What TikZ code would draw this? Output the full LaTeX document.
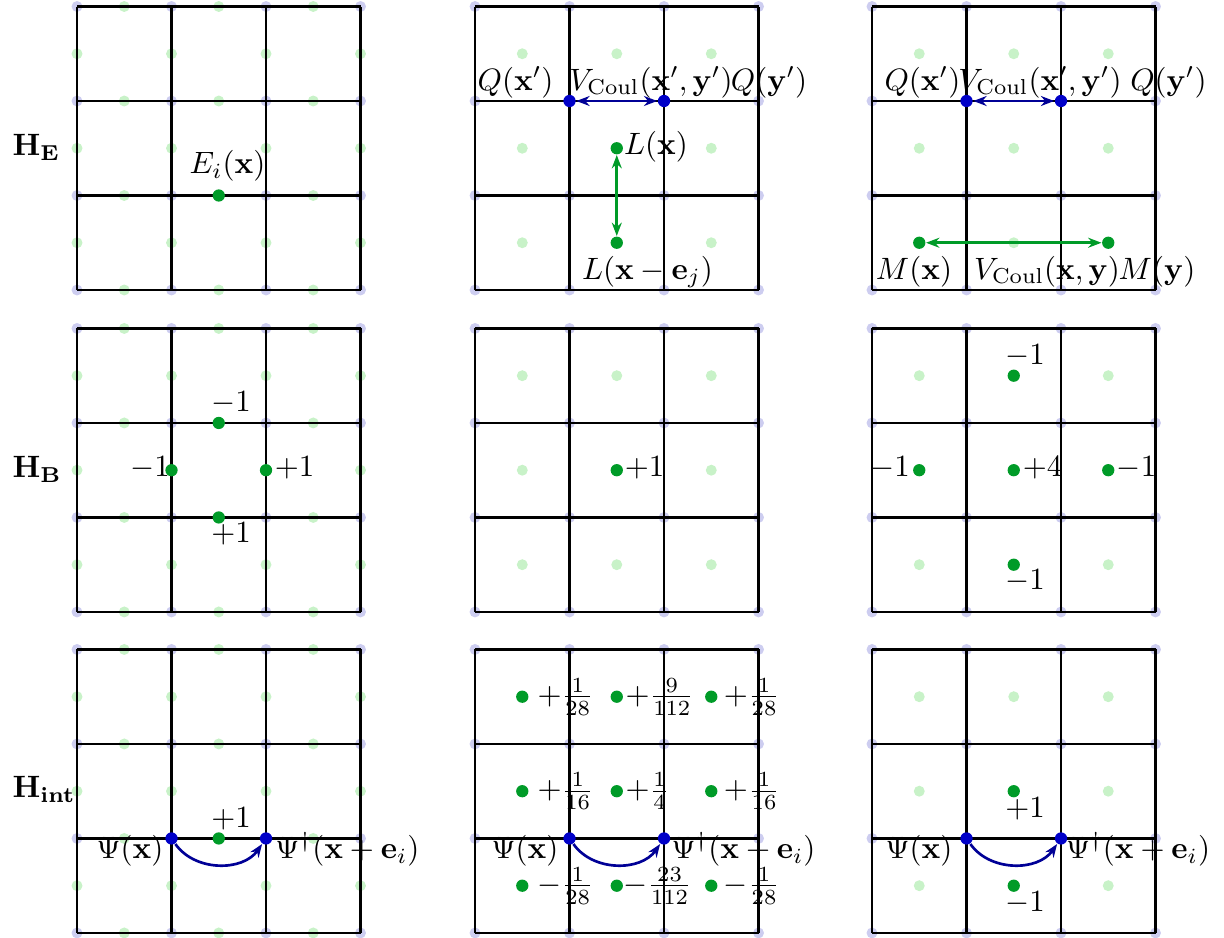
\documentclass[tikz,border=0pt]{standalone}
\usetikzlibrary{arrows.meta}
\definecolor{hlgreen}{RGB}{0,155,40}
\definecolor{hlblue}{RGB}{0,0,200}
\definecolor{arrblue}{RGB}{0,0,150}
\definecolor{fgreen}{RGB}{200,242,200}
\definecolor{fblue}{RGB}{205,205,240}
\tikzset{
  gridline/.style={line width=0.65pt, black},
  gdot/.style={circle, fill=hlgreen, inner sep=0pt, minimum size=1.3mm},
  bdot/.style={circle, fill=hlblue, inner sep=0pt, minimum size=1.3mm},
  lab/.style={inner sep=0pt, anchor=base, scale=0.93},
  fraclab/.style={inner sep=0pt, anchor=west, scale=0.93},
  rowlab/.style={inner sep=0pt, anchor=base west, scale=0.93},
  barrow/.style={arrblue, line width=0.8pt, {Stealth[length=4pt,width=3pt]}-{Stealth[length=4pt,width=3pt]}},
  garrow/.style={hlgreen, line width=0.8pt, {Stealth[length=4pt,width=3pt]}-{Stealth[length=4pt,width=3pt]}},
  carrow/.style={arrblue, line width=0.8pt, -{Stealth[length=4pt,width=3pt]}},
}
\newcommand{\vtxdots}{\foreach \i in {0,...,3}{\foreach \j in {0,...,3}{\fill[fblue] (\i,\j) circle (0.058);}}}
\newcommand{\linkdots}{\foreach \i in {0,1,2}{\foreach \j in {0,...,3}{\fill[fgreen] (\i+0.5,\j) circle (0.058); \fill[fgreen] (\j,\i+0.5) circle (0.058);}}}
\newcommand{\plaqdots}{\foreach \i in {0,1,2}{\foreach \j in {0,1,2}{\fill[fgreen] (\i+0.5,\j+0.5) circle (0.058);}}}
\newcommand{\gridlines}{\draw[gridline] (0,0) grid (3,3);}
\begin{document}
\begin{tikzpicture}
\useasboundingbox (-0.815,-6.847) rectangle (12.138,3.069);
% row labels
\node[rowlab] (hE) at (-0.688,1.42) {$\mathbf{H}_{\mathbf{E}}$};
\node[rowlab] (hB) at (-0.688,-1.987) {$\mathbf{H}_{\mathbf{B}}$};
\node[rowlab] (hI) at (-0.688,-5.375) {$\mathbf{H}_{\mathbf{int}}$};

% ---------- Row 1 ----------
\begin{scope}
  \linkdots \vtxdots \gridlines
  \node[gdot] (e1) at (1.5,1) {};
  \node[lab] (e1l) at (1.593,1.228) {$E_i(\mathbf{x})$};
\end{scope}
\begin{scope}[shift={(4.212,0)}]
  \plaqdots \vtxdots \gridlines
  \node[bdot] (qa2) at (1,2) {};
  \node[bdot] (qb2) at (2,2) {};
  \draw[barrow] (qa2) -- (qb2);
  \node[lab] (qal2) at (0.429,2.116) {$Q(\mathbf{x}')$};
  \node[lab] (vl2) at (1.862,2.116) {$V_{\mathrm{Coul}}(\mathbf{x}',\mathbf{y}')$};
  \node[lab] (qbl2) at (3.111,2.116) {$Q(\mathbf{y}')$};
  \node[gdot] (la2) at (1.5,1.5) {};
  \node[gdot] (lb2) at (1.5,0.5) {};
  \draw[garrow] (la2) -- (lb2);
  \node[lab] (lal2) at (1.915,1.429) {$L(\mathbf{x})$};
  \node[lab] (lbl2) at (1.825,0.116) {$L(\mathbf{x}-\mathbf{e}_j)$};
\end{scope}
\begin{scope}[shift={(8.413,0)}]
  \plaqdots \vtxdots \gridlines
  \node[bdot] (qa3) at (1,2) {};
  \node[bdot] (qb3) at (2,2) {};
  \draw[barrow] (qa3) -- (qb3);
  \node[lab] (qal3) at (0.534,2.116) {$Q(\mathbf{x}')$};
  \node[lab] (vl3) at (1.778,2.116) {$V_{\mathrm{Coul}}(\mathbf{x}',\mathbf{y}')$};
  \node[lab] (qbl3) at (3.137,2.116) {$Q(\mathbf{y}')$};
  \node[gdot] (ma3) at (0.5,0.5) {};
  \node[gdot] (mb3) at (2.5,0.5) {};
  \draw[garrow] (ma3) -- (mb3);
  \node[lab] (mal3) at (0.444,0.116) {$M(\mathbf{x})$};
  \node[lab] (vm3) at (1.852,0.116) {$V_{\mathrm{Coul}}(\mathbf{x},\mathbf{y})$};
  \node[lab] (mbl3) at (3.016,0.116) {$M(\mathbf{y})$};
\end{scope}

% ---------- Row 2 ----------
\begin{scope}[shift={(0,-3.407)}]
  \linkdots \vtxdots \gridlines
  \node[gdot] (b1t) at (1.5,2) {};
  \node[gdot] (b1l) at (1,1.5) {};
  \node[gdot] (b1r) at (2,1.5) {};
  \node[gdot] (b1b) at (1.5,1) {};
  \node[lab] (b1tl) at (1.63,2.116) {$-1$};
  \node[lab] (b1ll) at (0.772,1.429) {$-1$};
  \node[lab] (b1rl) at (2.302,1.429) {$+1$};
  \node[lab] (b1bl) at (1.63,0.730) {$+1$};
\end{scope}
\begin{scope}[shift={(4.212,-3.407)}]
  \plaqdots \vtxdots \gridlines
  \node[gdot] (b2c) at (1.5,1.5) {};
  \node[lab] (b2cl) at (1.794,1.429) {$+1$};
\end{scope}
\begin{scope}[shift={(8.413,-3.407)}]
  \plaqdots \vtxdots \gridlines
  \node[gdot] (b3t) at (1.5,2.5) {};
  \node[gdot] (b3l) at (0.5,1.5) {};
  \node[gdot] (b3c) at (1.5,1.5) {};
  \node[gdot] (b3r) at (2.5,1.5) {};
  \node[gdot] (b3b) at (1.5,0.5) {};
  \node[lab] (b3tl) at (1.619,2.614) {$-1$};
  \node[lab] (b3ll) at (0.19,1.429) {$-1$};
  \node[lab] (b3cl) at (1.804,1.429) {$+4$};
  \node[lab] (b3rl) at (2.799,1.429) {$-1$};
  \node[lab] (b3bl) at (1.619,0.233) {$-1$};
\end{scope}

% ---------- Row 3 ----------
\begin{scope}[shift={(0,-6.804)}]
  \linkdots \vtxdots \gridlines
  \node[gdot] (i1g) at (1.5,1) {};
  \node[lab] (i1gl) at (1.63,1.111) {$+1$};
  \node[bdot] (pa1) at (1,1) {};
  \node[bdot] (pb1) at (2,1) {};
  \draw[carrow] (pa1) to[bend right=55] (pb1);
  \node[lab] (pal1) at (0.561,0.783) {$\Psi(\mathbf{x})$};
  \node[lab] (pbl1) at (2.862,0.783) {$\Psi^\dagger(\mathbf{x}+\mathbf{e}_i)$};
\end{scope}
\begin{scope}[shift={(4.212,-6.804)}]
  \plaqdots \vtxdots \gridlines
  \foreach \i in {0,1,2}{\foreach \j in {0,1,2}{\node[gdot] (f\i\j) at (\i+0.5,\j+0.5) {};}}
  \node[fraclab] (f02l) at (0.656,2.5) {$+\frac{1}{28}$};
  \node[fraclab] (f12l) at (1.587,2.5) {$+\frac{9}{112}$};
  \node[fraclab] (f22l) at (2.628,2.5) {$+\frac{1}{28}$};
  \node[fraclab] (f01l) at (0.656,1.5) {$+\frac{1}{16}$};
  \node[fraclab] (f11l) at (1.587,1.5) {$+\frac{1}{4}$};
  \node[fraclab] (f21l) at (2.628,1.5) {$+\frac{1}{16}$};
  \node[fraclab] (f00l) at (0.656,0.5) {$-\frac{1}{28}$};
  \node[fraclab] (f10l) at (1.563,0.5) {$-\frac{23}{112}$};
  \node[fraclab] (f20l) at (2.628,0.5) {$-\frac{1}{28}$};
  \node[bdot] (pa2) at (1,1) {};
  \node[bdot] (pb2) at (2,1) {};
  \draw[carrow] (pa2) to[bend right=55] (pb2);
  \node[lab] (pal2) at (0.529,0.783) {$\Psi(\mathbf{x})$};
  \node[lab] (pbl2) at (2.841,0.783) {$\Psi^\dagger(\mathbf{x}+\mathbf{e}_i)$};
\end{scope}
\begin{scope}[shift={(8.413,-6.804)}]
  \plaqdots \vtxdots \gridlines
  \node[gdot] (i3a) at (1.5,1.5) {};
  \node[gdot] (i3b) at (1.5,0.5) {};
  \node[lab] (i3al) at (1.619,1.217) {$+1$};
  \node[lab] (i3bl) at (1.619,0.222) {$-1$};
  \node[bdot] (pa3) at (1,1) {};
  \node[bdot] (pb3) at (2,1) {};
  \draw[carrow] (pa3) to[bend right=55] (pb3);
  \node[lab] (pal3) at (0.497,0.783) {$\Psi(\mathbf{x})$};
  \node[lab] (pbl3) at (2.815,0.783) {$\Psi^\dagger(\mathbf{x}+\mathbf{e}_i)$};
\end{scope}
\end{tikzpicture}
\end{document}
